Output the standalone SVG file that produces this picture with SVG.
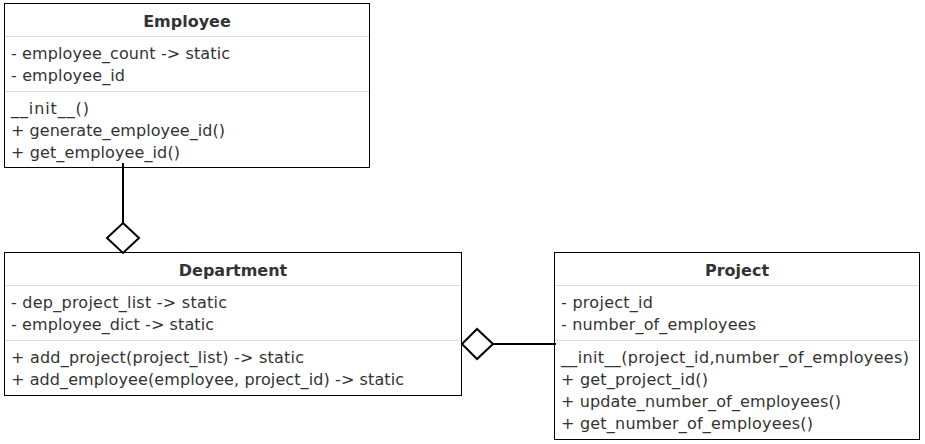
<svg xmlns="http://www.w3.org/2000/svg" width="925" height="444" viewBox="0 0 925 444">
<style>
.box{fill:#fff;stroke:#000;stroke-width:1}
.sep{stroke:#ddd;stroke-width:1}
.t{font-family:"DejaVu Sans",Verdana,sans-serif;font-size:16px;fill:#333}
.h{font-family:"DejaVu Sans",Verdana,sans-serif;font-size:16px;font-weight:bold;fill:#333;text-anchor:middle}
.c{stroke:#000;stroke-width:2;fill:none}
.d{stroke:#000;stroke-width:2;fill:#fff}
</style>
<rect width="925" height="444" fill="#fff"/>
<g id="Employee">
<rect class="box" x="4.5" y="3.5" width="365" height="164"/>
<line class="sep" x1="5" y1="36.5" x2="369" y2="36.5"/>
<line class="sep" x1="5" y1="91.5" x2="369" y2="91.5"/>
<text class="h" x="187" y="27">Employee</text>
<text class="t" x="11" y="59" textLength="219" lengthAdjust="spacing">- employee_count -&gt; static</text>
<text class="t" x="11" y="81" textLength="114" lengthAdjust="spacing">- employee_id</text>
<text class="t" x="11" y="114" textLength="78" lengthAdjust="spacing">__init__()</text>
<text class="t" x="11" y="136" textLength="214" lengthAdjust="spacing">+ generate_employee_id()</text>
<text class="t" x="11" y="158" textLength="169" lengthAdjust="spacing">+ get_employee_id()</text>
</g>
<g id="Department">
<rect class="box" x="4.5" y="252.5" width="457" height="143"/>
<line class="sep" x1="5" y1="285.5" x2="461" y2="285.5"/>
<line class="sep" x1="5" y1="340.5" x2="461" y2="340.5"/>
<text class="h" x="233" y="276">Department</text>
<text class="t" x="11" y="308" textLength="216" lengthAdjust="spacing">- dep_project_list -&gt; static</text>
<text class="t" x="11" y="330" textLength="203" lengthAdjust="spacing">- employee_dict -&gt; static</text>
<text class="t" x="11" y="363" textLength="293" lengthAdjust="spacing">+ add_project(project_list) -&gt; static</text>
<text class="t" x="11" y="385" textLength="393" lengthAdjust="spacing">+ add_employee(employee, project_id) -&gt; static</text>
</g>
<g id="Project">
<rect class="box" x="554.5" y="252.5" width="365" height="187"/>
<line class="sep" x1="555" y1="285.5" x2="919" y2="285.5"/>
<line class="sep" x1="555" y1="340.5" x2="919" y2="340.5"/>
<text class="h" x="737" y="276">Project</text>
<text class="t" x="561" y="308" textLength="92" lengthAdjust="spacing">- project_id</text>
<text class="t" x="561" y="330" textLength="195" lengthAdjust="spacing">- number_of_employees</text>
<text class="t" x="561" y="363" textLength="348" lengthAdjust="spacing">__init__(project_id,number_of_employees)</text>
<text class="t" x="561" y="385" textLength="147" lengthAdjust="spacing">+ get_project_id()</text>
<text class="t" x="561" y="407" textLength="280" lengthAdjust="spacing">+ update_number_of_employees()</text>
<text class="t" x="561" y="429" textLength="252" lengthAdjust="spacing">+ get_number_of_employees()</text>
</g>
<g id="connectors">
<line class="c" x1="123" y1="163" x2="123" y2="223"/>
<polygon class="d" points="123,223 139,238 123,253 107,238"/>
<line class="c" x1="493" y1="344" x2="556" y2="344"/>
<polygon class="d" points="462,344 477,329 493,344 477,359"/>
</g>
</svg>
